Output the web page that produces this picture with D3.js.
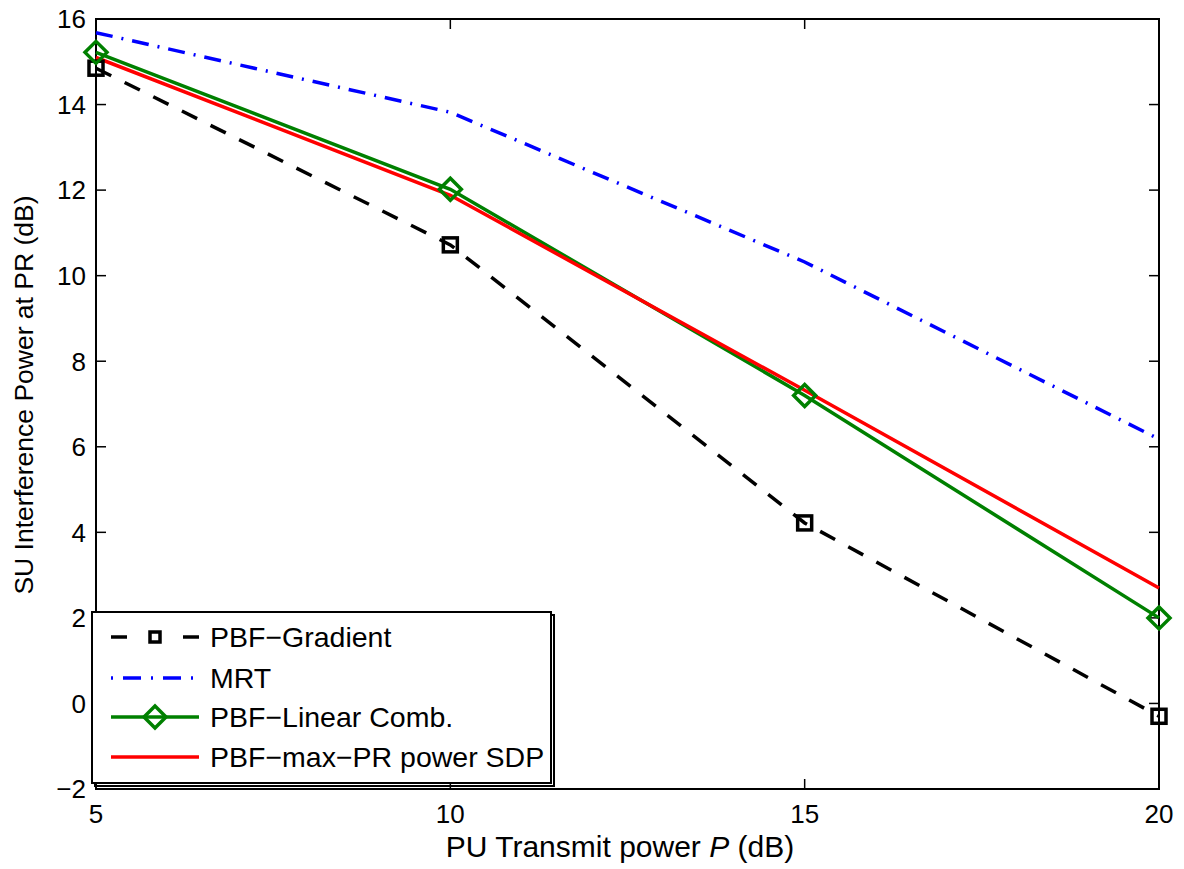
<!DOCTYPE html>
<html>
<head>
<meta charset="utf-8">
<script src="https://cdn.jsdelivr.net/npm/d3@7"></script>
<style>
  body { margin: 0; background: #fff; overflow: hidden; }
  svg { display: block; }
  text { font-family: "Liberation Sans", Arial, sans-serif; }
</style>
</head>
<body>
<div id="chart"></div>
<script>
// x values (PU transmit power, dB)
var powers = [5, 10, 15, 20];

// series values
var gradient = [14.85, 10.72, 4.22, -0.3];
var mrt = [15.68, 13.82, 10.32, 6.18];
var linearComb = [15.22, 12.02, 7.2, 2.0];
var maxPrSdp = [15.1, 11.88, 7.32, 2.7];

var seriesNames = ["PBF\u2212Gradient", "MRT", "PBF\u2212Linear Comb.", "PBF\u2212max\u2212PR power SDP"];
var xTicks = [5, 10, 15, 20];
var yTicks = [-2, 0, 2, 4, 6, 8, 10, 12, 14, 16];

var width = 1184, height = 869,
	margin = {top: 19, right: 25, bottom: 80, left: 96},
	innerWidth = width - margin.left - margin.right,
	innerHeight = height - margin.top - margin.bottom;

var xScale = d3.scaleLinear().domain([5, 20]).range([0, innerWidth]);
var yScale = d3.scaleLinear().domain([-2, 16]).range([innerHeight, 0]);

var svg = d3.select("#chart").append("svg")
	.attr("width", width)
	.attr("height", height);

var g = svg.append("g")
	.attr("transform", "translate(" + margin.left + "," + margin.top + ")");

// box + inward ticks (matlab style)
g.append("rect")
	.attr("width", innerWidth).attr("height", innerHeight)
	.attr("fill", "none").attr("stroke", "#000").attr("stroke-width", 2);

var tickLen = 10;
xTicks.forEach(function (t) {
	var x = xScale(t);
	g.append("line").attr("x1", x).attr("x2", x).attr("y1", innerHeight).attr("y2", innerHeight - tickLen)
		.attr("stroke", "#000").attr("stroke-width", 1.5);
	g.append("line").attr("x1", x).attr("x2", x).attr("y1", 0).attr("y2", tickLen)
		.attr("stroke", "#000").attr("stroke-width", 1.5);
	g.append("text").attr("x", x).attr("y", innerHeight + 34)
		.attr("text-anchor", "middle").attr("font-size", 26).text(t);
});
yTicks.forEach(function (t) {
	var y = yScale(t);
	g.append("line").attr("x1", 0).attr("x2", tickLen).attr("y1", y).attr("y2", y)
		.attr("stroke", "#000").attr("stroke-width", 1.5);
	g.append("line").attr("x1", innerWidth).attr("x2", innerWidth - tickLen).attr("y1", y).attr("y2", y)
		.attr("stroke", "#000").attr("stroke-width", 1.5);
	g.append("text").attr("x", -10).attr("y", y).attr("dy", "0.36em")
		.attr("text-anchor", "end").attr("font-size", 26)
		.text(t < 0 ? "\u2212" + Math.abs(t) : t);
});

// axis labels
var xLabel = g.append("text").attr("x", 524).attr("y", innerHeight + 68)
	.attr("text-anchor", "middle").attr("font-size", 30);
xLabel.append("tspan").text("PU Transmit power ");
xLabel.append("tspan").attr("font-style", "italic").text("P");
xLabel.append("tspan").text(" (dB)");

g.append("text")
	.attr("transform", "translate(" + (-63) + "," + 376 + ") rotate(-90)")
	.attr("text-anchor", "middle").attr("font-size", 26.5)
	.text("SU Interference Power at PR (dB)");

var line = d3.line()
	.x(function (d, i) { return xScale(powers[i]); })
	.y(function (d) { return yScale(d); });

g.append("path").datum(gradient).attr("d", line)
	.attr("fill", "none").attr("stroke", "#000").attr("stroke-width", 3.5)
	.attr("stroke-dasharray", "17,15");
g.append("path").datum(mrt).attr("d", line)
	.attr("fill", "none").attr("stroke", "#0000ff").attr("stroke-width", 3.5)
	.attr("stroke-dasharray", "17,9,2,9");
g.append("path").datum(linearComb).attr("d", line)
	.attr("fill", "none").attr("stroke", "#008000").attr("stroke-width", 3.5);
g.append("path").datum(maxPrSdp).attr("d", line)
	.attr("fill", "none").attr("stroke", "#ff0000").attr("stroke-width", 3.5);

function squareMarker(sel, x, y, s) {
	sel.append("rect").attr("x", x - s).attr("y", y - s).attr("width", 2 * s).attr("height", 2 * s)
		.attr("fill", "none").attr("stroke", "#000").attr("stroke-width", 3.5);
}
function diamondMarker(sel, x, y) {
	var s = 11;
	sel.append("path")
		.attr("d", "M" + x + "," + (y - s) + "L" + (x + s) + "," + y + "L" + x + "," + (y + s) + "L" + (x - s) + "," + y + "Z")
		.attr("fill", "none").attr("stroke", "#008000").attr("stroke-width", 3.5);
}

gradient.forEach(function (v, i) { squareMarker(g, xScale(powers[i]), yScale(v), 7); });
linearComb.forEach(function (v, i) { diamondMarker(g, xScale(powers[i]), yScale(v)); });

// legend
var lg = svg.append("g").attr("transform", "translate(92,612)");
var lw = 459, lh = 171;
lg.append("rect").attr("x", 3).attr("y", 3).attr("width", lw).attr("height", lh)
	.attr("fill", "none").attr("stroke", "#000").attr("stroke-width", 2);
lg.append("rect").attr("width", lw).attr("height", lh)
	.attr("fill", "#fff").attr("stroke", "#000").attr("stroke-width", 2);

var rowY = [25, 66, 105, 145];
var sx1 = 19, sx2 = 107, tx = 118;
var styles = [
	{stroke: "#000", dash: "17,15"},
	{stroke: "#0000ff", dash: "2,10,18,10"},
	{stroke: "#008000", dash: null},
	{stroke: "#ff0000", dash: null}
];
seriesNames.forEach(function (name, i) {
	var y = rowY[i];
	if (i === 0) {
		lg.append("line").attr("x1", sx1).attr("x2", sx1 + 16).attr("y1", y).attr("y2", y)
			.attr("stroke", "#000").attr("stroke-width", 3.5);
		lg.append("line").attr("x1", sx2 - 16).attr("x2", sx2).attr("y1", y).attr("y2", y)
			.attr("stroke", "#000").attr("stroke-width", 3.5);
		squareMarker(lg, (sx1 + sx2) / 2, y, 5);
	} else {
		var l = lg.append("line").attr("x1", sx1).attr("x2", sx2).attr("y1", y).attr("y2", y)
			.attr("stroke", styles[i].stroke).attr("stroke-width", 3.5);
		if (styles[i].dash) l.attr("stroke-dasharray", styles[i].dash);
		if (i === 2) diamondMarker(lg, (sx1 + sx2) / 2, y);
	}
	lg.append("text").attr("x", tx).attr("y", y).attr("dy", "0.36em")
		.attr("font-size", 28.5).text(name);
});
</script>
</body>
</html>
